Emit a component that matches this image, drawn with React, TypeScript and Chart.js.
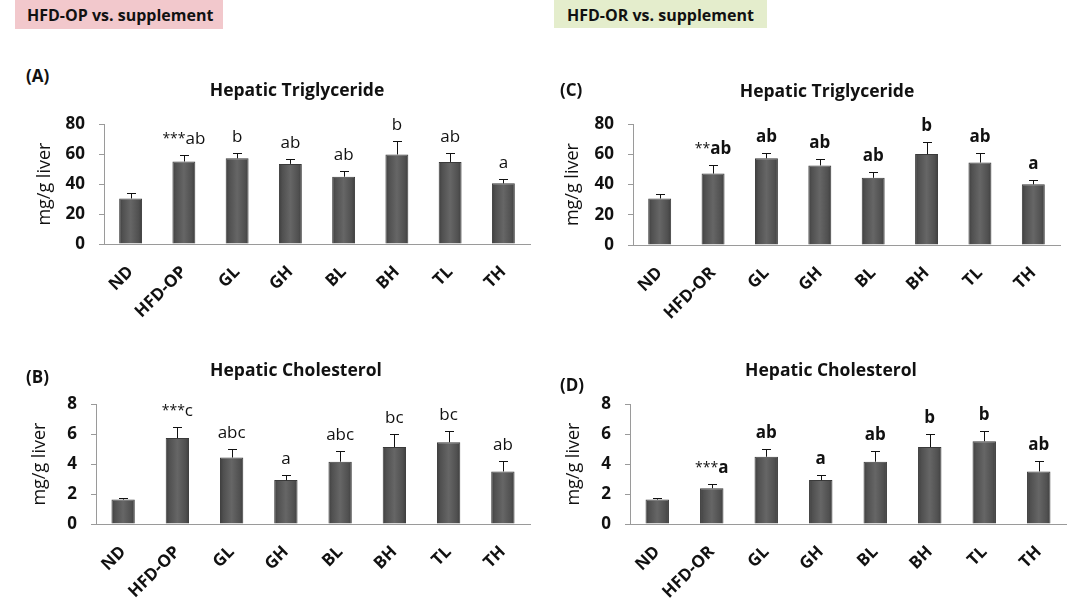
import React, { useEffect, useRef } from 'react';
import { Chart, registerables } from 'chart.js';

Chart.register(...registerables);

const FONT = '"Open Sans", "Noto Sans", sans-serif';

// ---- categories ----
const groupsOP = ['ND', 'HFD-OP', 'GL', 'GH', 'BL', 'BH', 'TL', 'TH'];
const groupsOR = ['ND', 'HFD-OR', 'GL', 'GH', 'BL', 'BH', 'TL', 'TH'];

// ---- y tick labels ----
const yTicksTG = [0, 20, 40, 60, 80];
const yTicksChol = [0, 2, 4, 6, 8];

// ---- (A) Hepatic triglyceride, HFD-OP ----
const tgOP = [30.4, 55.1, 57.2, 53.5, 44.9, 59.8, 54.8, 40.5];
const tgOPSem = [3.6, 4.3, 3.5, 3.3, 3.7, 9.1, 5.9, 2.9];
const tgOPStars = ['', '***', '', '', '', '', '', ''];
const tgOPLetters = ['', 'ab', 'b', 'ab', 'ab', 'b', 'ab', 'a'];

// ---- (B) Hepatic cholesterol, HFD-OP ----
const cholOP = [1.63, 5.74, 4.44, 2.93, 4.16, 5.14, 5.46, 3.51];
const cholOPSem = [0.08, 0.73, 0.55, 0.34, 0.74, 0.86, 0.74, 0.67];
const cholOPStars = ['', '***', '', '', '', '', '', ''];
const cholOPLetters = ['', 'c', 'abc', 'a', 'abc', 'bc', 'bc', 'ab'];

// ---- (C) Hepatic triglyceride, HFD-OR ----
const tgOR = [30.8, 47.3, 57.4, 52.7, 44.5, 60.2, 54.6, 40.2];
const tgORSem = [2.9, 5.8, 3.2, 4.1, 3.7, 8.0, 6.0, 2.8];
const tgORStars = ['', '**', '', '', '', '', '', ''];
const tgORLetters = ['', 'ab', 'ab', 'ab', 'ab', 'b', 'ab', 'a'];

// ---- (D) Hepatic cholesterol, HFD-OR ----
const cholOR = [1.63, 2.39, 4.49, 2.93, 4.16, 5.14, 5.53, 3.51];
const cholORSem = [0.08, 0.3, 0.54, 0.37, 0.74, 0.86, 0.67, 0.67];
const cholORStars = ['', '***', '', '', '', '', '', ''];
const cholORLetters = ['', 'a', 'ab', 'a', 'ab', 'b', 'b', 'ab'];

const annotPlugin = {
  id: 'annot',
  afterDatasetsDraw(chart: any, _args: any, opts: any) {
    const { ctx } = chart;
    const meta = chart.getDatasetMeta(0);
    const yScale = chart.scales.y;
    const data = chart.data.datasets[0].data as number[];
    meta.data.forEach((bar: any, i: number) => {
      const v = data[i];
      const e = opts.sem[i];
      const x = Math.round(bar.x) + 0.5;
      const base = yScale.getPixelForValue(v);
      const top = Math.round(yScale.getPixelForValue(v + e)) + 0.5;
      ctx.save();
      ctx.strokeStyle = '#111';
      ctx.lineWidth = 1;
      ctx.beginPath();
      ctx.moveTo(x, base);
      ctx.lineTo(x, top);
      ctx.moveTo(x - 4.5, top);
      ctx.lineTo(x + 4.5, top);
      ctx.stroke();

      const letters = opts.letters[i] || '';
      const stars = opts.stars[i] || '';
      const letterFont = `${opts.bold ? 'bold ' : ''}17px ${FONT}`;
      const starFont = `14px ${FONT}`;
      ctx.font = letterFont;
      const lw = ctx.measureText(letters).width;
      ctx.font = starFont;
      const sw = stars ? ctx.measureText(stars).width : 0;
      let x0 = bar.x - (lw + sw) / 2;
      const by = top - 12;
      ctx.fillStyle = '#111';
      ctx.textAlign = 'left';
      ctx.textBaseline = 'alphabetic';
      if (stars) {
        ctx.font = starFont;
        ctx.fillText(stars, x0, by - 1);
        x0 += sw;
      }
      ctx.font = letterFont;
      ctx.fillText(letters, x0, by);
      ctx.restore();
    });
  },
};

type PanelProps = {
  labels: string[];
  values: number[];
  sem: number[];
  stars: string[];
  letters: string[];
  yTicks: number[];
  bold: boolean;
  left: number;
  top: number;
  width: number;
  height: number;
  padL: number;
  padR: number;
  padT: number;
  yW: number;
  xH: number;
};

function barFill(c: any) {
  const el = c.element;
  if (!el || !isFinite(el.x) || !el.width) return '#555555';
  const w = el.width;
  const g = c.chart.ctx.createLinearGradient(el.x - w / 2, 0, el.x + w / 2, 0);
  g.addColorStop(0, '#3e3e3e');
  g.addColorStop(0.15, '#505050');
  g.addColorStop(0.5, '#666666');
  g.addColorStop(0.85, '#505050');
  g.addColorStop(1, '#3e3e3e');
  return g;
}

function Panel(p: PanelProps) {
  const ref = useRef<HTMLCanvasElement | null>(null);
  useEffect(() => {
    if (!ref.current) return;
    const grey = '#9a9a9a';
    const chart = new Chart(ref.current, {
      type: 'bar',
      data: {
        labels: p.labels,
        datasets: [
          {
            data: p.values,
            backgroundColor: barFill as any,
            borderColor: '#3a3a3a',
            borderWidth: 1,
            barPercentage: 0.43,
            categoryPercentage: 1,
          },
        ],
      },
      options: {
        responsive: false,
        maintainAspectRatio: false,
        animation: false,
        layout: { padding: { left: p.padL, right: p.padR, top: p.padT, bottom: 0 } },
        plugins: {
          legend: { display: false },
          tooltip: { enabled: false },
          title: { display: false },
          annot: { sem: p.sem, stars: p.stars, letters: p.letters, bold: p.bold },
        } as any,
        scales: {
          x: {
            grid: { display: false },
            border: { display: true, color: grey },
            ticks: {
              minRotation: 45,
              maxRotation: 45,
              autoSkip: false,
              padding: 10,
              color: '#111',
              font: { family: FONT, size: 17, weight: 'bold' },
            },
            afterFit: (s: any) => {
              s.height = p.xH;
            },
          },
          y: {
            min: p.yTicks[0],
            max: p.yTicks[p.yTicks.length - 1],
            ticks: {
              stepSize: p.yTicks[1] - p.yTicks[0],
              padding: 14,
              color: '#111',
              font: { family: FONT, size: 17, weight: 'bold' },
            },
            grid: { drawOnChartArea: false, drawTicks: true, tickLength: 5, color: grey },
            border: { display: true, color: grey },
            title: {
              display: true,
              text: 'mg/g liver',
              color: '#111',
              padding: 0,
              font: { family: FONT, size: 18 },
            },
            afterFit: (s: any) => {
              s.width = p.yW;
            },
          },
        },
      },
      plugins: [annotPlugin],
    });
    chart.update();
    return () => chart.destroy();
  }, []);
  return (
    <canvas
      ref={ref}
      width={p.width}
      height={p.height}
      style={{ position: 'absolute', left: p.left, top: p.top, width: p.width, height: p.height }}
    />
  );
}

const textBase: React.CSSProperties = {
  position: 'absolute',
  fontFamily: FONT,
  color: '#111',
  whiteSpace: 'nowrap',
};

function Title({ text, cx, cy }: { text: string; cx: number; cy: number }) {
  return (
    <div
      style={{
        ...textBase,
        left: cx - 150,
        top: cy - 11,
        width: 300,
        textAlign: 'center',
        fontSize: 17.5,
        fontWeight: 'bold',
        lineHeight: '22px',
      }}
    >
      {text}
    </div>
  );
}

function PanelLabel({ text, x, cy }: { text: string; x: number; cy: number }) {
  return (
    <div style={{ ...textBase, left: x, top: cy - 11, fontSize: 17, fontWeight: 'bold', lineHeight: '22px' }}>
      {text}
    </div>
  );
}

export default function App() {
  return (
    <div
      style={{
        position: 'fixed',
        left: 0,
        top: 0,
        width: 1079,
        height: 603,
        background: '#ffffff',
        overflow: 'hidden',
      }}
    >
      <div
        style={{
          ...textBase,
          left: 15,
          top: 0,
          width: 208,
          height: 29,
          background: '#f2c8cc',
          fontSize: 16,
          fontWeight: 'bold',
          lineHeight: '30px',
          paddingLeft: 12,
          boxSizing: 'border-box',
        }}
      >
        HFD-OP vs. supplement
      </div>
      <div
        style={{
          ...textBase,
          left: 554,
          top: 0,
          width: 213,
          height: 28,
          background: '#e4edcc',
          fontSize: 16,
          fontWeight: 'bold',
          lineHeight: '30px',
          paddingLeft: 13,
          boxSizing: 'border-box',
        }}
      >
        HFD-OR vs. supplement
      </div>

      <Panel
        labels={groupsOP}
        values={tgOP}
        sem={tgOPSem}
        stars={tgOPStars}
        letters={tgOPLetters}
        yTicks={yTicksTG}
        bold={false}
        left={0}
        top={100}
        width={545}
        height={220}
        padL={34}
        padR={15}
        padT={21}
        yW={70}
        xH={76}
      />
      <Panel
        labels={groupsOR}
        values={tgOR}
        sem={tgORSem}
        stars={tgORStars}
        letters={tgORLetters}
        yTicks={yTicksTG}
        bold={true}
        left={545}
        top={100}
        width={534}
        height={220}
        padL={17}
        padR={19}
        padT={21}
        yW={71}
        xH={75}
      />
      <Panel
        labels={groupsOP}
        values={cholOP}
        sem={cholOPSem}
        stars={cholOPStars}
        letters={cholOPLetters}
        yTicks={yTicksChol}
        bold={false}
        left={0}
        top={380}
        width={545}
        height={223}
        padL={29}
        padR={15}
        padT={21}
        yW={67}
        xH={79}
      />
      <Panel
        labels={groupsOR}
        values={cholOR}
        sem={cholORSem}
        stars={cholORStars}
        letters={cholORLetters}
        yTicks={yTicksChol}
        bold={true}
        left={545}
        top={380}
        width={534}
        height={223}
        padL={18}
        padR={13}
        padT={21}
        yW={67}
        xH={79}
      />

      <PanelLabel text="(A)" x={26} cy={76} />
      <PanelLabel text="(C)" x={560} cy={90} />
      <PanelLabel text="(B)" x={26} cy={377} />
      <PanelLabel text="(D)" x={560} cy={385} />

      <Title text="Hepatic Triglyceride" cx={297} cy={89} />
      <Title text="Hepatic Triglyceride" cx={827} cy={90} />
      <Title text="Hepatic Cholesterol" cx={296} cy={369} />
      <Title text="Hepatic Cholesterol" cx={831} cy={369} />
    </div>
  );
}
